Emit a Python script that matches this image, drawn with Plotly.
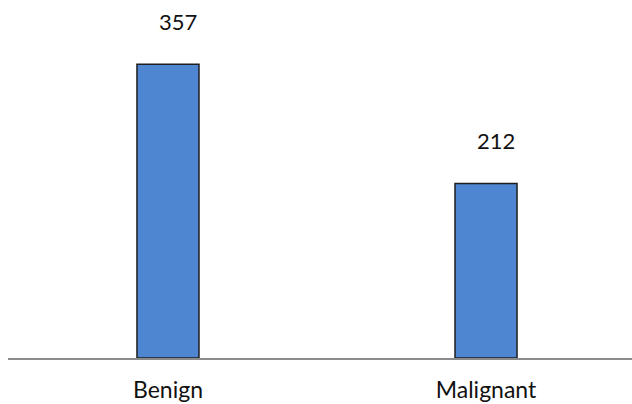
import plotly.graph_objects as go

categories = ["Benign", "Malignant"]
counts = [357, 212]

bar_fill = "rgb(79,134,209)"
bar_edge = "rgb(30,30,30)"

fig = go.Figure(
    go.Bar(
        x=categories,
        y=counts,
        width=0.195,
        marker=dict(color=bar_fill, line=dict(color=bar_edge, width=1.5)),
        hoverinfo="skip",
    )
)

# value labels above each bar
for cat, val in zip(categories, counts):
    fig.add_annotation(
        x=cat, y=val, text=str(val), showarrow=False,
        xanchor="center", yanchor="middle", xshift=10, yshift=43,
        font=dict(family="Lato", size=22, color="#111111"),
    )

fig.update_layout(
    width=632, height=404,
    margin=dict(l=8, r=0, t=0, b=46),
    paper_bgcolor="white", plot_bgcolor="white",
    showlegend=False,
    xaxis=dict(
        range=[-0.503, 1.459],
        automargin=False,
        showline=True, linecolor="#8c8c8c", linewidth=2,
        showgrid=False, ticks="",
        tickfont=dict(family="Lato", size=23, color="#111111"),
        ticklabelstandoff=10,
    ),
    yaxis=dict(
        range=[0, 435], visible=False, showgrid=False, zeroline=False,
    ),
)

fig.write_html("out.html")
